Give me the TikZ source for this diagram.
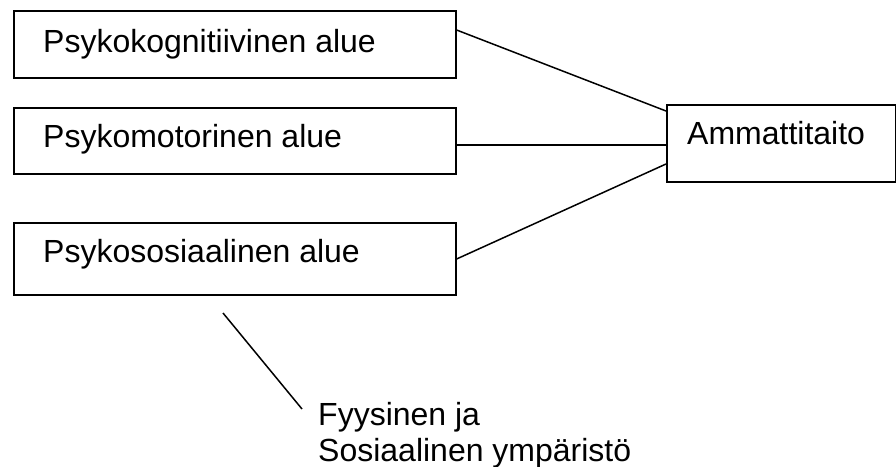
\documentclass[tikz,border=0pt]{standalone}
\usepackage{fontspec}
\setmainfont{Liberation Sans}
\begin{document}
\begin{tikzpicture}[x=1pt,y=-1pt,
  box/.style={draw=black,line width=1.6pt,rectangle,inner sep=0pt,anchor=north west},
  lbl/.style={inner sep=0pt,anchor=base west,font=\fontsize{32}{37}\selectfont},
  conn/.style={draw=black,line width=1.5pt}]
\useasboundingbox (0,0) rectangle (896,466);
\node[box,minimum width=442pt,minimum height=67pt] (b1) at (13,10) {};
\node[box,minimum width=442pt,minimum height=66pt] (b2) at (13,107) {};
\node[box,minimum width=442pt,minimum height=72pt] (b3) at (13,222) {};
\node[box,minimum width=229pt,minimum height=77pt] (b4) at (666,104) {};
\node[lbl] (t1) at (43,52) {Psykokognitiivinen alue};
\node[lbl] (t2) at (43,147) {Psykomotorinen alue};
\node[lbl] (t3) at (43,262) {Psykososiaalinen alue};
\node[lbl] (t4) at (687,144) {Ammattitaito};
\node[lbl] (e1) at (318,425) {Fyysinen ja};
\node[lbl] (e2) at (318,461) {Sosiaalinen ympäristö};
\coordinate (etip) at (223,313);
\draw[conn] ([yshift=-20pt]b1.north east) -- ([yshift=-7pt]b4.north west);
\draw[conn] ([yshift=-38pt]b2.north east) -- ([yshift=-41pt]b4.north west);
\draw[conn] ([yshift=-37pt]b3.north east) -- ([yshift=-60pt]b4.north west);
\draw[conn] (etip) -- ([xshift=-16pt,yshift=16pt]e1.base west);
\end{tikzpicture}
\end{document}
